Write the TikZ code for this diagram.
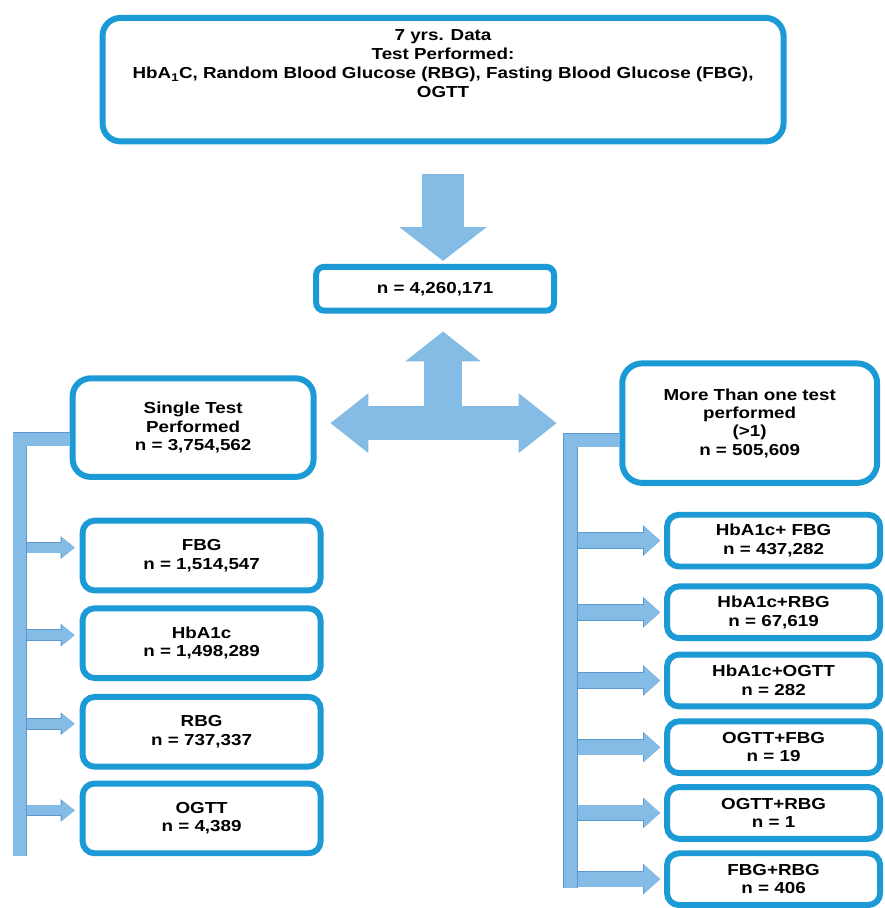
\documentclass[tikz,border=0pt]{standalone}
\usepackage{fontspec}
\setmainfont{Liberation Sans}[FakeStretch=1.18]
\usetikzlibrary{arrows.meta}

\definecolor{boxblue}{RGB}{28,154,214}
\definecolor{arrowfill}{RGB}{133,188,230}
\definecolor{arrowedge}{RGB}{92,152,206}

\begin{document}
\begin{tikzpicture}[x=1pt, y=-1pt]
    % ===================================
    % 設定
    % ===================================
    \def\lw{6pt}    % 枠線の太さ
    \def\bw{239pt}  % 左列の箱の幅
    \def\rw{214pt}  % 右列の箱の幅

    \tikzset{
        box/.style={draw=boxblue, line width=\lw, fill=white, rounded corners=12pt,
            align=center, inner sep=2pt, font=\fontsize{16}{18.5}\selectfont\bfseries},
        bar/.style={draw=arrowfill, line width=13pt,
            preaction={draw=arrowedge, line width=14.5pt}},
        thinarrow/.style={draw=arrowfill, line width=10pt,
            -{Triangle[length=13pt,width=20pt,line width=0pt]},
            preaction={draw=arrowedge, line width=11.5pt,
                -{Triangle[length=14pt,width=22.5pt,line width=0pt]}}},
        widearrow/.style={draw=arrowfill, line width=15pt,
            -{Triangle[length=16pt,width=28pt,line width=0pt]},
            preaction={draw=arrowedge, line width=16.5pt,
                -{Triangle[length=17pt,width=30.5pt,line width=0pt]}}},
        fatarrow/.style={draw=arrowfill}
    }
    % ===================================

    \fill[white] (0,0) rectangle (888,908);

    % 1. 上段の箱 (データ) と合計
    \node[box, minimum width=684pt, minimum height=124pt, rounded corners=18pt] (data) at (445,80) {};
    \node[font=\fontsize{16}{19}\selectfont\bfseries, align=center] (datatext) at (445,64)
        {7 yrs. Data\\Test Performed:\\HbA\textsubscript{1}C, Random Blood Glucose (RBG), Fasting Blood Glucose (FBG),\\OGTT};
    \node[box, minimum width=239pt, minimum height=44pt, rounded corners=8pt] (total) at (437,290) {n = 4,260,171};

    % 2. 左右の分岐の箱
    \node[box, minimum width=242pt, minimum height=99pt, rounded corners=18pt] (single) at (194,429.5)
        {Single Test\\Performed\\n = 3,754,562};
    \node[box, minimum width=256pt, minimum height=120pt, rounded corners=20pt] (multi) at (753,425)
        {More Than one test\\performed\\(>1)\\n = 505,609};

    % 3. 左列 (単独検査)
    \node[box, minimum width=\bw, minimum height=70pt] (fbg) at (202.5,558) {FBG\\n = 1,514,547};
    \node[box, minimum width=\bw, minimum height=70pt] (hba) at (202.5,646) {HbA1c\\n = 1,498,289};
    \node[box, minimum width=\bw, minimum height=70pt] (rbg) at (202.5,735) {RBG\\n = 737,337};
    \node[box, minimum width=\bw, minimum height=70pt] (ogtt) at (202.5,822) {OGTT\\n = 4,389};

    % 4. 右列 (複数検査)
    \node[box, minimum width=\rw, minimum height=52pt] (hbafbg) at (777,543) {HbA1c+ FBG\\n = 437,282};
    \node[box, minimum width=\rw, minimum height=52pt] (hbarbg) at (777,615) {HbA1c+RBG\\n = 67,619};
    \node[box, minimum width=\rw, minimum height=52pt] (hbaogtt) at (777,683.5) {HbA1c+OGTT\\n = 282};
    \node[box, minimum width=\rw, minimum height=52pt] (ogttfbg) at (777,750.5) {OGTT+FBG\\n = 19};
    \node[box, minimum width=\rw, minimum height=52pt] (ogttrbg) at (777,816.5) {OGTT+RBG\\n = 1};
    \node[box, minimum width=\rw, minimum height=52pt] (fbgrbg) at (777,883) {FBG+RBG\\n = 406};

    % 5. 太い矢印
    \draw[fatarrow, line width=43pt, -{Triangle[length=34pt,width=88pt,line width=0pt]},
        shorten <=30pt, shorten >=3pt] (data.south) -- (data.south |- total.north);

    \coordinate (hub) at (445,425);
    \draw[fatarrow, line width=34pt, -{Triangle[length=38pt,width=60pt,line width=0pt]},
        shorten >=14pt] (hub) -- (hub -| single.east);
    \draw[fatarrow, line width=34pt, -{Triangle[length=38pt,width=60pt,line width=0pt]},
        shorten >=63pt] (hub) -- (hub -| multi.west);
    \draw[fatarrow, line width=39pt, -{Triangle[length=30pt,width=76pt,line width=0pt]},
        shorten >=18pt] (hub) -- (hub |- total.south);

    % 6. 括弧と小さい矢印
    \coordinate (lbot) at (20,860);
    \coordinate (rbot) at (573,892);

    \foreach \b in {fbg, hba, rbg, ogtt} {
        \draw[thinarrow, shorten >=5pt] ([yshift=8pt]lbot |- \b.west) -- ([yshift=8pt]\b.west);
    }
    \foreach \b in {hbafbg, hbarbg, hbaogtt, ogttfbg, ogttrbg, fbgrbg} {
        \draw[widearrow, shorten >=4pt] (rbot |- \b.west) -- (\b.west);
    }

    \draw[bar] ([yshift=-11.5pt]single.west) -| (lbot);
    \draw[bar] ([yshift=-17pt]multi.west) -| (rbot);

\end{tikzpicture}
\end{document}
